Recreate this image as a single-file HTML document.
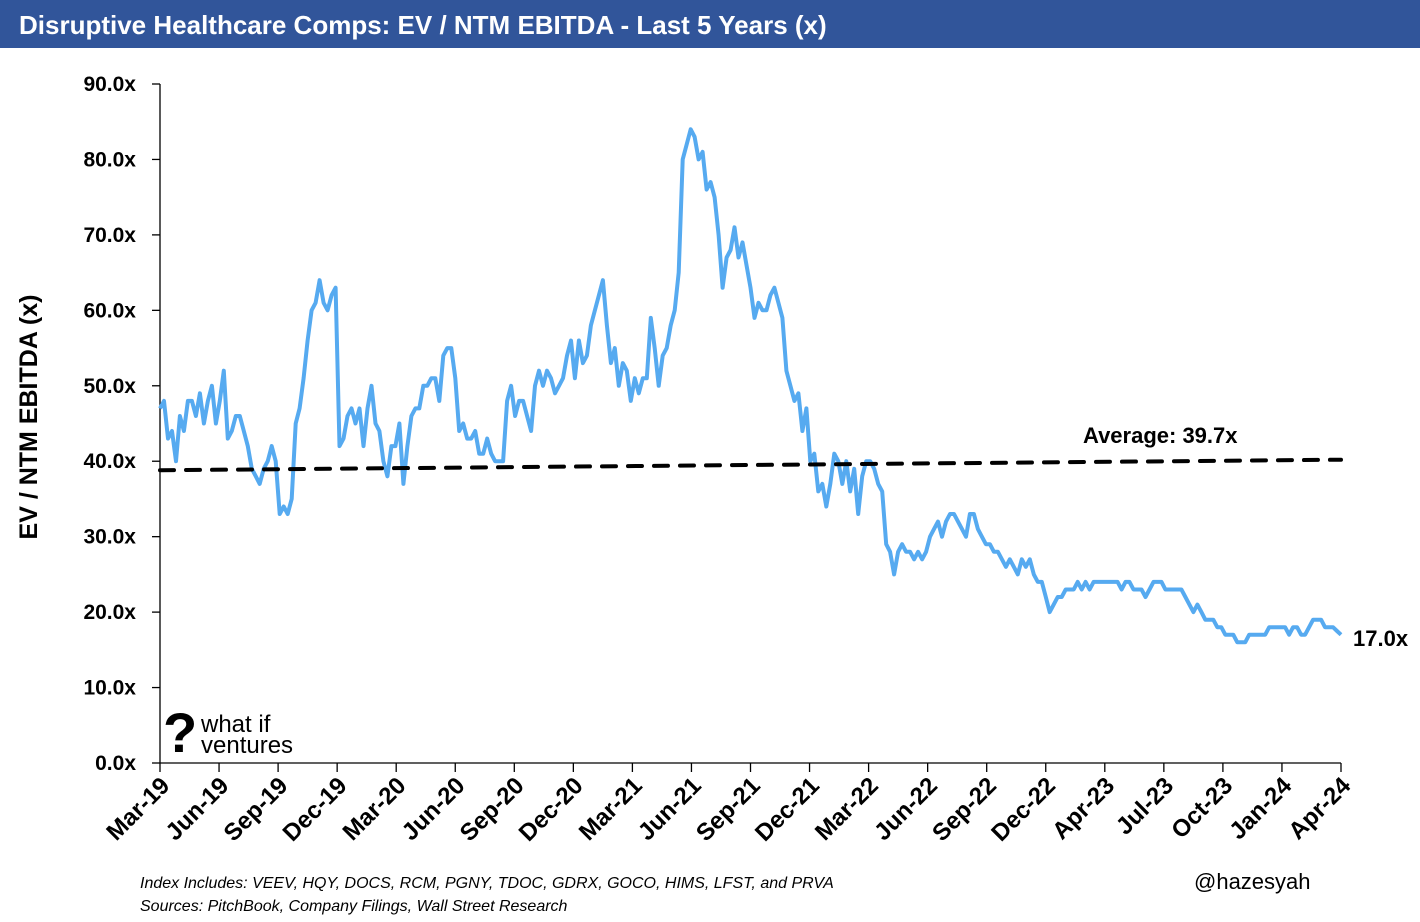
<!DOCTYPE html>
<html><head><meta charset="utf-8"><style>
body{margin:0;width:1420px;height:922px;background:#fff;overflow:hidden;font-family:"Liberation Sans",sans-serif}
#title{position:absolute;left:0;top:0;width:1420px;height:48px;background:#31559A;color:#fff;font-weight:bold;font-size:26px;line-height:50px;padding-left:19px;box-sizing:border-box}
</style></head><body>
<div id="title">Disruptive Healthcare Comps: EV / NTM EBITDA - Last 5 Years (x)</div>
<svg id="chart" width="1420" height="922" style="position:absolute;left:0;top:0"></svg>
<script>
const yTicks=[0,10,20,30,40,50,60,70,80,90];
const xLabels=["Mar-19","Jun-19","Sep-19","Dec-19","Mar-20","Jun-20","Sep-20","Dec-20","Mar-21","Jun-21","Sep-21","Dec-21","Mar-22","Jun-22","Sep-22","Dec-22","Apr-23","Jul-23","Oct-23","Jan-24","Apr-24"];
const values=[47,48,43,44,40,46,44,48,48,46,49,45,48,50,45,48,52,43,44,46,46,44,42,39,38,37,39,40,42,40,33,34,33,35,45,47,51,56,60,61,64,61,60,62,63,42,43,46,47,45,47,42,47,50,45,44,40,38,42,42,45,37,42,46,47,47,50,50,51,51,48,54,55,55,51,44,45,43,43,44,41,41,43,41,40,40,40,48,50,46,48,48,46,44,50,52,50,52,51,49,50,51,54,56,51,56,53,54,58,60,62,64,58,53,55,50,53,52,48,51,49,51,51,59,55,50,54,55,58,60,65,80,82,84,83,80,81,76,77,75,70,63,67,68,71,67,69,66,63,59,61,60,60,62,63,61,59,52,50,48,49,44,47,40,41,36,37,34,37,41,40,37,40,36,39,33,38,40,40,39,37,36,29,28,25,28,29,28,28,27,28,27,28,30,31,32,30,32,33,33,32,31,30,33,33,31,30,29,29,28,28,27,26,27,26,25,27,26,27,25,24,24,22,20,21,22,22,23,23,23,24,23,24,23,24,24,24,24,24,24,24,23,24,24,23,23,23,22,23,24,24,24,23,23,23,23,23,22,21,20,21,20,19,19,19,18,18,17,17,17,16,16,16,17,17,17,17,17,18,18,18,18,18,17,18,18,17,17,18,19,19,19,18,18,18,17.5,17];
const avgStart=38.8, avgEnd=40.2, avgLabel="Average: 39.7x", lastLabel="17.0x";
const NS="http://www.w3.org/2000/svg", svg=document.getElementById('chart');
const X0=160,X1=1341,Y0=763,Y1=84;
const ys=v=>Y0-(v/90)*(Y0-Y1);
const xs=i=>X0+(i/(values.length-1))*(X1-X0);
const xt=i=>X0+(i/(xLabels.length-1))*(X1-X0);
function mk(t,a,txt){const e=document.createElementNS(NS,t);for(const k in a)e.setAttribute(k,a[k]);if(txt!==undefined)e.textContent=txt;svg.appendChild(e);return e;}
let e;
e=mk('line',{x1:X0,y1:Y1,x2:X0,y2:Y0,stroke:'#000','stroke-width':1.3});


e=mk('line',{x1:X0,y1:Y0,x2:X1,y2:Y0,stroke:'#000','stroke-width':1.3});


yTicks.forEach(v=>{
 mk('line',{x1:152,x2:X0,y1:ys(v),y2:ys(v),stroke:'#000','stroke-width':1.3});
 e=mk('text',{x:136,y:ys(v)+7,'text-anchor':'end','font-size':21,'font-weight':'bold'},v.toFixed(1)+'x');
 
 
});
xLabels.forEach((l,i)=>{
 const x=xt(i);
 mk('line',{x1:x,x2:x,y1:Y0,y2:772,stroke:'#000','stroke-width':1.3});
 e=mk('text',{x:0,y:0,'text-anchor':'end','font-size':24,'font-weight':'bold',transform:`translate(${x+11},${787}) rotate(-45)`},l);
 
 
});
e=mk('text',{x:0,y:0,'text-anchor':'middle','font-size':25,'font-weight':'bold',transform:'translate(37,417) rotate(-90)'},'EV / NTM EBITDA (x)');


e=mk('polyline',{points:values.map((v,i)=>xs(i).toFixed(1)+','+ys(v).toFixed(1)).join(' '),fill:'none',stroke:'#56AAF0','stroke-width':4,'stroke-linejoin':'round'});


e=mk('line',{x1:X0,y1:ys(avgStart),x2:X1,y2:ys(avgEnd),stroke:'#000','stroke-width':4,'stroke-dasharray':'14,12','stroke-linecap':'round'});


e=mk('text',{x:1083,y:443,'font-size':22,'font-weight':'bold'},avgLabel);


e=mk('text',{x:1353,y:646,'font-size':22,'font-weight':'bold'},lastLabel);


e=mk('text',{x:163,y:752,'font-size':56,'font-weight':'bold'},'?');


e=mk('text',{x:201,y:732,'font-size':24},'what if');


e=mk('text',{x:201,y:753,'font-size':24},'ventures');


e=mk('text',{x:140,y:888,'font-size':16,'font-style':'italic'},'Index Includes: VEEV, HQY, DOCS, RCM, PGNY, TDOC, GDRX, GOCO, HIMS, LFST, and PRVA');


e=mk('text',{x:140,y:911,'font-size':16,'font-style':'italic'},'Sources: PitchBook, Company Filings, Wall Street Research');


e=mk('text',{x:1194,y:889,'font-size':22},'@hazesyah');


</script>
</body></html>
